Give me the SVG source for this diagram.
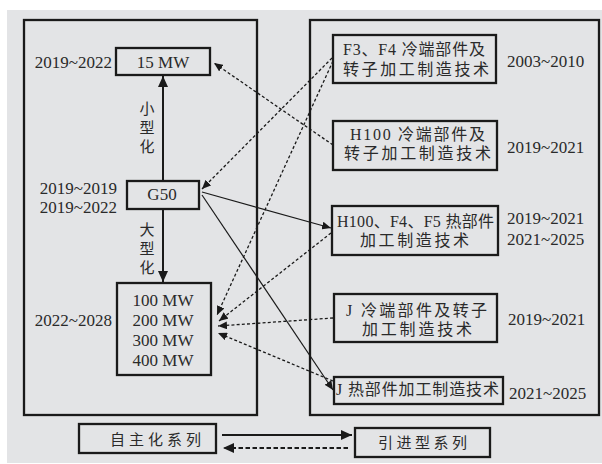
<svg xmlns="http://www.w3.org/2000/svg" width="602" height="464" viewBox="0 0 602 464">
<style>
.t{font-family:"Liberation Serif","Noto Sans CJK SC",serif;font-size:17px;fill:#2a2a2a}
.m{font-family:"Liberation Serif","Noto Sans CJK SC",serif;font-size:16px;fill:#2a2a2a}
.v{font-family:"Noto Sans CJK SC",sans-serif;font-size:15px;fill:#2a2a2a}
.box{fill:none;stroke:#1a1a1a;stroke-width:2.3}
.frame{fill:none;stroke:#1a1a1a;stroke-width:2.3}
.thick{stroke:#1a1a1a;stroke-width:2;fill:none}
.sl{stroke:#1a1a1a;stroke-width:1.2;fill:none}
.dl{stroke:#1a1a1a;stroke-width:1.3;fill:none;stroke-dasharray:3 2.2}
.ld{stroke:#1a1a1a;stroke-width:2;fill:none;stroke-dasharray:4.5 2.5}
</style>
<defs>
<marker id="big" markerUnits="userSpaceOnUse" markerWidth="12" markerHeight="10" refX="11" refY="5" orient="auto"><path d="M0,0 L11,5 L0,10 z" fill="#1a1a1a"/></marker>
<marker id="sm" markerUnits="userSpaceOnUse" markerWidth="10" markerHeight="8" refX="9" refY="4" orient="auto"><path d="M0,0 L9,4 L0,8 z" fill="#1a1a1a"/></marker>
</defs>
<rect x="7" y="10" width="595" height="453" fill="#e3e4e6"/>
<g id="frames">
<rect class="frame" x="24" y="20" width="233" height="395"/>
<rect class="frame" x="310" y="20" width="289" height="395"/>
</g>
<g id="n15mw">
<rect class="box" x="116" y="48" width="94" height="27"/>
<text class="t" x="163" y="68" text-anchor="middle">15 MW</text>
<text class="t" x="112" y="68" text-anchor="end">2019~2022</text>
</g>
<g id="g50">
<rect class="box" x="127" y="181" width="72" height="28"/>
<text class="t" x="162" y="200" text-anchor="middle">G50</text>
<text class="t" x="117" y="194" text-anchor="end">2019~2019</text>
<text class="t" x="117" y="213" text-anchor="end">2019~2022</text>
</g>
<g id="large">
<rect class="box" x="117" y="283" width="94" height="92"/>
<text class="t" x="163" y="306" text-anchor="middle">100 MW</text>
<text class="t" x="163" y="326" text-anchor="middle">200 MW</text>
<text class="t" x="163" y="346" text-anchor="middle">300 MW</text>
<text class="t" x="163" y="366" text-anchor="middle">400 MW</text>
<text class="t" x="112" y="326" text-anchor="end">2022~2028</text>
</g>
<g id="labels">
<text class="v" x="147" y="114" text-anchor="middle">小</text>
<text class="v" x="147" y="133" text-anchor="middle">型</text>
<text class="v" x="147" y="152" text-anchor="middle">化</text>
<text class="v" x="147" y="235" text-anchor="middle">大</text>
<text class="v" x="147" y="254" text-anchor="middle">型</text>
<text class="v" x="147" y="273" text-anchor="middle">化</text>
</g>
<g id="f3cold">
<rect class="box" x="333" y="35" width="163" height="48"/>
<text class="m" x="343" y="55" textLength="142" lengthAdjust="spacing">F3、F4 冷端部件及</text>
<text class="m" x="343" y="75" textLength="146" lengthAdjust="spacing">转子加工制造技术</text>
<text class="t" x="507" y="67">2003~2010</text>
</g>
<g id="h100cold">
<rect class="box" x="333" y="121" width="164" height="49"/>
<text class="m" x="350" y="140" textLength="135" lengthAdjust="spacing">H100 冷端部件及</text>
<text class="m" x="344" y="159" textLength="147" lengthAdjust="spacing">转子加工制造技术</text>
<text class="t" x="507" y="153">2019~2021</text>
</g>
<g id="h100hot">
<rect class="box" x="332" y="206" width="166" height="49"/>
<text class="m" x="337" y="227" textLength="157" lengthAdjust="spacing">H100、F4、F5 热部件</text>
<text class="m" x="360" y="246" textLength="109" lengthAdjust="spacing">加工制造技术</text>
<text class="t" x="507" y="224">2019~2021</text>
<text class="t" x="507" y="245">2021~2025</text>
</g>
<g id="jcold">
<rect class="box" x="334" y="294" width="163" height="48"/>
<text class="m" x="346" y="316" textLength="141" lengthAdjust="spacing">J 冷端部件及转子</text>
<text class="m" x="362" y="335" textLength="110" lengthAdjust="spacing">加工制造技术</text>
<text class="t" x="508" y="325">2019~2021</text>
</g>
<g id="jhot">
<rect class="box" x="334" y="377" width="169" height="27"/>
<text class="m" x="336" y="395" textLength="163" lengthAdjust="spacing">J 热部件加工制造技术</text>
<text class="t" x="509" y="399">2021~2025</text>
</g>
<g id="legend-self">
<rect class="box" x="79" y="424" width="137" height="29"/>
<text class="v" x="110" y="445" textLength="91" lengthAdjust="spacing">自主化系列</text>
</g>
<g id="legend-import">
<rect class="box" x="355" y="428" width="135" height="29"/>
<text class="v" x="378" y="448" textLength="89" lengthAdjust="spacing">引进型系列</text>
</g>
<g id="connectors">
<path class="thick" d="M163,181 L163,76" marker-end="url(#big)"/>
<path class="thick" d="M163,209 L163,282" marker-end="url(#big)"/>
<path class="dl" d="M333,145 L214,63" marker-end="url(#sm)"/>
<path class="dl" d="M332,58 L202,189" marker-end="url(#sm)"/>
<path class="dl" d="M333,61 L217,315" marker-end="url(#sm)"/>
<path class="sl" d="M202,192 L331,228" marker-end="url(#sm)"/>
<path class="sl" d="M202,195 L333,390" marker-end="url(#sm)"/>
<path class="dl" d="M331,233 L219,321" marker-end="url(#sm)"/>
<path class="dl" d="M333,318 L218,326" marker-end="url(#sm)"/>
<path class="dl" d="M333,381 L218,333" marker-end="url(#sm)"/>
<path class="thick" d="M222,435 L352,435" marker-end="url(#big)"/>
<path class="ld" d="M348,448 L223,448" marker-end="url(#big)"/>
</g>
</svg>
